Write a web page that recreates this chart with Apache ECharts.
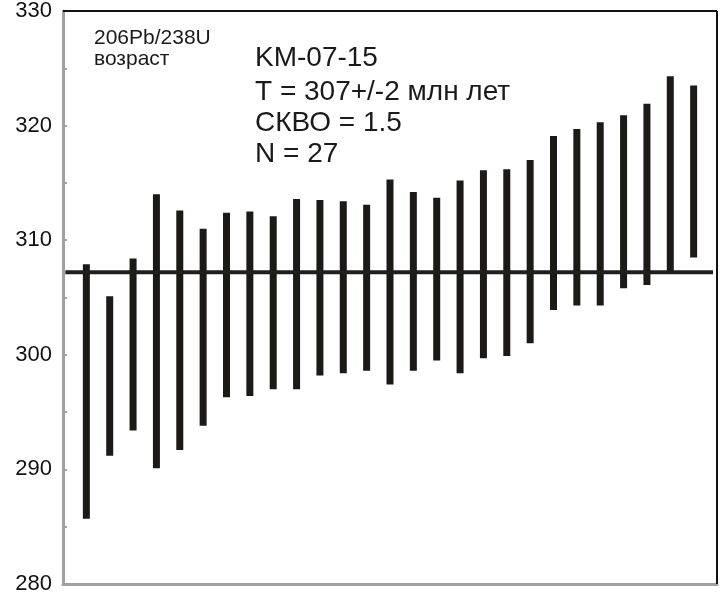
<!DOCTYPE html>
<html>
<head>
<meta charset="utf-8">
<script src="https://cdn.jsdelivr.net/npm/echarts@6/dist/echarts.min.js"></script>
<style>
html,body{margin:0;padding:0;background:#fff;}
#chart{width:725px;height:603px;}
</style>
</head>
<body>
<div id="chart"></div>
<script>
// Analysis index (1..27)
var analyses = [1,2,3,4,5,6,7,8,9,10,11,12,13,14,15,16,17,18,19,20,21,22,23,24,25,26,27];
// Upper ends of the error bars (Ma)
var upper = [307.9,305.1,308.4,314.0,312.6,311.0,312.4,312.5,312.1,313.6,313.5,313.4,313.1,315.3,314.2,313.7,315.2,316.1,316.2,317.0,319.1,319.7,320.3,320.9,321.9,324.3,323.5];
// Lower ends of the error bars (Ma)
var lower = [285.7,291.2,293.4,290.1,291.7,293.8,296.3,296.4,297.0,297.0,298.2,298.4,298.6,297.4,298.6,299.5,298.4,299.7,299.9,301.0,303.9,304.3,304.3,305.8,306.1,307.3,308.5];
// Weighted mean age line
var meanAge = 307.2;
var meanSpan = [0.1, 27.83];
// Y ticks
var yTicks = [280, 290, 300, 310, 320, 330];
// Text
var label1 = ['206Pb/238U', 'возраст'];
var label2 = ['KM-07-15', 'T = 307+/-2 млн лет', 'СКВО = 1.5', 'N = 27'];

var barData = analyses.map(function(a, i){ return [a, lower[i], upper[i]]; });

var chart = echarts.init(document.getElementById('chart'), null, {renderer:'canvas'});
var FONT = '"Liberation Sans", Arial, sans-serif';
var graphics = [];
label1.forEach(function(t, i){
  graphics.push({type:'text', left:94, top: 39 + i*21.7 - 11.5, style:{text:t, font:'21px ' + FONT, fill:'#1a1a1a'}});
});
var mids = [58.5, 91.8, 123, 154];
label2.forEach(function(t, i){
  graphics.push({type:'text', left:255, top: mids[i] - 14, style:{text:t, font:'28px ' + FONT, fill:'#1a1a1a'}});
});

chart.setOption({
  animation:false,
  backgroundColor:'#fff',
  grid:{left:63, top:10, right:8, bottom:19, show:false},
  xAxis:{
    type:'value', min:0, max:28,
    axisLine:{show:true, lineStyle:{color:'#a0a0a0', width:3}},
    axisTick:{show:false}, axisLabel:{show:false}, splitLine:{show:false}
  },
  yAxis:{
    type:'value', min:yTicks[0], max:yTicks[yTicks.length-1], interval:10,
    axisLine:{show:true, lineStyle:{color:'#a0a0a0', width:3}},
    axisTick:{show:true, inside:true, length:4, lineStyle:{color:'#a0a0a0', width:2}},
    minorTick:{show:true, splitNumber:2, length:4, lineStyle:{color:'#a0a0a0', width:2}},
    axisLabel:{color:'#111', fontSize:22, fontFamily:FONT, margin:11, padding:[4,0,0,0]},
    splitLine:{show:false}
  },
  graphic: graphics,
  series:[
    {
      type:'line', data:[[28,330],[28,280]], symbol:'none', silent:true,
      lineStyle:{color:'#111', width:2}
    },
    {
      type:'line', data:[[0,330],[28,330]], symbol:'none', silent:true,
      lineStyle:{color:'#111', width:2}
    },
    {
      type:'custom',
      data: barData,
      renderItem:function(params, api){
        var x = api.value(0);
        var p1 = api.coord([x, api.value(2)]);
        var p2 = api.coord([x, api.value(1)]);
        var w = 7;
        return {type:'rect', shape:{x:p1[0]-w/2, y:p1[1], width:w, height:p2[1]-p1[1]}, style:{fill:'#1c1a17'}};
      },
      encode:{x:0, y:[1,2]}
    },
    {
      type:'line', data:[[meanSpan[0], meanAge],[meanSpan[1], meanAge]], symbol:'none', silent:true,
      lineStyle:{color:'#1f1f1f', width:4}, z:5
    }
  ]
});
</script>
</body>
</html>
